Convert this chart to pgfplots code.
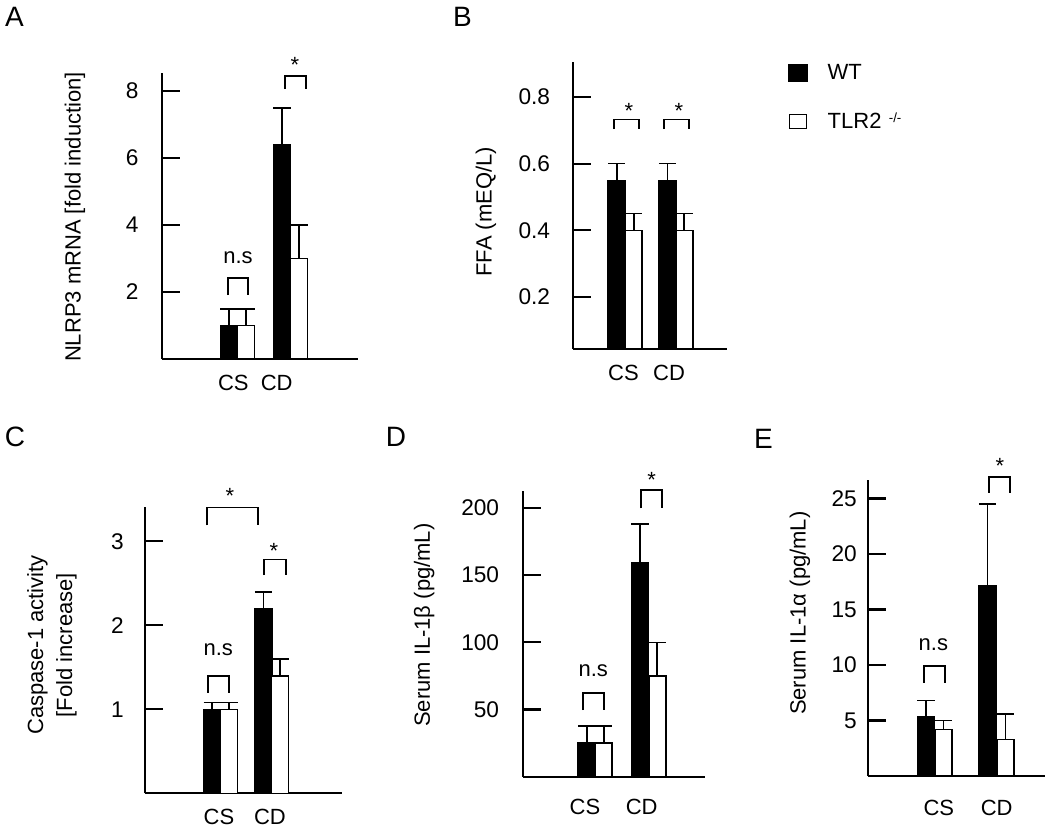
\documentclass[border=0pt]{standalone}
\usepackage{fontspec}
\setmainfont{Liberation Sans}
\usepackage{pgfplots}
\pgfplotsset{compat=1.18}
\newcommand{\lbl}{\fontsize{16.5}{21.75}\selectfont}
\newcommand{\tkl}{\fontsize{17}{20}\selectfont}
\newcommand{\pnl}{\fontsize{21}{25}\selectfont}
\newcommand{\brk}[4]{\draw[line width=1.25pt] (axis cs:#1,#3) -- (axis cs:#1,#4) -- (axis cs:#2,#4) -- (axis cs:#2,#3);}
\tikzset{ann/.style={font=\lbl, inner sep=0pt}}
\pgfplotsset{
  panel/.style={
    scale only axis, axis lines=left, axis line style={-, line width=1.75pt, black},
    clip=false, tick align=inside, major tick length=13.5pt,
    ytick style={line width=1.6pt, black}, xtick style={draw=none},
    yticklabel style={font=\tkl}, xticklabel style={font=\lbl},
    /pgf/number format/assume math mode=true,
    yticklabel style={inner sep=0pt, anchor=east},
    xticklabel style={inner sep=0pt, anchor=center},
    xticklabels={CS,CD},
    ylabel style={font=\lbl, anchor=center, inner sep=0pt, align=center},
    xmin=0, ymin=0,
  },
  wt/.style={ybar, bar shift=0pt, bar width=17, draw=black, fill=black, line width=1.2pt,
    error bars/y dir=plus, error bars/y explicit,
    error bars/error bar style={line width=1.2pt, black, solid},
    error bars/error mark options={rotate=90, mark size=6.5pt, line width=1.2pt, black}},
  ko/.style={wt, fill=white},
}
\begin{document}
\begin{tikzpicture}
\useasboundingbox (0,0) rectangle (787.5pt,-621.75pt);
% panel letters
\node[font=\pnl, inner sep=0pt] at (10.9pt,-12.75pt) {A};
\node[font=\pnl, inner sep=0pt] at (346.9pt,-12.5pt) {B};
\node[font=\pnl, inner sep=0pt] at (11.25pt,-327.5pt) {C};
\node[font=\pnl, inner sep=0pt] at (297pt,-327.5pt) {D};
\node[font=\pnl, inner sep=0pt] at (572.5pt,-329.25pt) {E};

% ---------------- A
\begin{axis}[panel, at={(121.5pt,-269.25pt)}, anchor=south west,
  width=147pt, height=214.5pt, xmax=196, ymax=8.54,
  ytick={2,4,6,8}, xtick={71.3,114.7},
  yticklabel style={xshift=-17.5pt}, xticklabel style={yshift=-17.8pt},
  ylabel={NLRP3 mRNA [fold induction]},
  ylabel style={at={(axis description cs:-0.444,0.4965)}}]
\addplot[wt] coordinates {(67,1.0) +- (0,0.5) (120,6.4) +- (0,1.1)};
\addplot[ko] coordinates {(84,1.0) +- (0,0.5) (137,3.0) +- (0,1.0)};
\brk{66}{86}{1.91}{2.42}
\node[ann] at (axis cs:76,3.03) {n.s};
\brk{123}{144}{8.06}{8.45}
\node[ann, anchor=north] at (axis cs:133,9.02) {*};
\end{axis}

% ---------------- B
\begin{axis}[panel, clip=true, at={(429.75pt,-261.75pt)}, anchor=south west,
  width=115.5pt, height=215.25pt, xmax=154, ymin=0.044, ymax=0.905,
  ytick={0.2,0.4,0.6,0.8}, xtick={50.5,96},
  yticklabel style={xshift=-17pt, /pgf/number format/.cd, fixed, precision=1, fixed zerofill},
  xticklabel style={yshift=-18.2pt},
  ylabel={FFA (mEQ/L)},
  ylabel style={at={(axis description cs:-0.565,0.478)}},
  legend style={at={(axis description cs:1.396,0.993)}, anchor=north west,
    draw=none, fill=none, font=\lbl, inner sep=0pt, row sep=23pt,
    nodes={inner sep=0pt},
    /tikz/every odd column/.append style={column sep=15pt}},
  legend cell align=left]
\addplot[wt, legend image code/.code={\draw[fill=black, draw=black, line width=0.6pt] (0pt,-6.4pt) rectangle (14pt,6.4pt);}]
  coordinates {(43.7,0.55) +- (0,0.05) (94.5,0.55) +- (0,0.05)};
\addlegendentry{WT}
\addplot[ko, legend image code/.code={\draw[fill=white, draw=black, line width=0.6pt] (0.5pt,-5.3pt) rectangle (13pt,5.3pt);}]
  coordinates {(60.7,0.40) +- (0,0.05) (111.2,0.40) +- (0,0.05)};
\addlegendentry{TLR2\hspace{5.5pt}\raisebox{4pt}{\fontsize{10}{10}\selectfont -/-}}
\brk{41}{66}{0.704}{0.733}
\node[ann, anchor=north] at (axis cs:56,0.781) {*};
\brk{91}{116}{0.704}{0.733}
\node[ann, anchor=north] at (axis cs:106,0.781) {*};
\end{axis}

% ---------------- C
\begin{axis}[panel, at={(108.75pt,-594.975pt)}, anchor=south west,
  width=147.75pt, height=214.725pt, xmax=197, ymax=3.41,
  ytick={1,2,3}, xtick={74,125},
  yticklabel style={xshift=-15.75pt}, xticklabel style={yshift=-17.5pt},
  ylabel={Caspase-1 activity\\{[Fold increase]}},
  ylabel style={at={(axis description cs:-0.472,0.518)}}]
\addplot[wt] coordinates {(67.2,1.0) +- (0,0.08) (118.5,2.2) +- (0,0.2)};
\addplot[ko] coordinates {(84.2,1.0) +- (0,0.08) (135,1.4) +- (0,0.2)};
\brk{62}{113}{3.19}{3.405}
\node[ann, anchor=north] at (axis cs:85,3.63) {*};
\brk{119}{140.7}{2.6}{2.785}
\node[ann, anchor=north] at (axis cs:129,2.98) {*};
\brk{63}{84}{1.198}{1.396}
\node[ann] at (axis cs:73.3,1.706) {n.s};
\end{axis}

% ---------------- D
\begin{axis}[panel, at={(392.025pt,-582.525pt)}, anchor=south west,
  width=136.725pt, height=214.5pt, xmax=182.3, ymax=212.8,
  ytick={50,100,150,200}, xtick={62.3,119},
  yticklabel style={xshift=-17.5pt}, xticklabel style={yshift=-22.5pt},
  ylabel={Serum IL-1β (pg/mL)},
  ylabel style={at={(axis description cs:-0.541,0.530)}}]
\addplot[wt] coordinates {(64,25) +- (0,12.7) (117.3,159) +- (0,29)};
\addplot[ko] coordinates {(81,25) +- (0,12.7) (134.5,75) +- (0,25)};
\brk{60.6}{81.3}{49.6}{62.1}
\node[ann] at (axis cs:70.6,78.8) {n.s};
\brk{118.3}{139}{199.7}{213.3}
\node[ann, anchor=north] at (axis cs:129,227) {*};
\end{axis}

% ---------------- E
\begin{axis}[panel, at={(650.775pt,-582pt)}, anchor=south west,
  width=132.975pt, height=222pt, xmax=177.3, ymax=26.67,
  x axis line style={line width=0.9pt},
  ytick={5,10,15,20,25}, xtick={71.1,129},
  yticklabel style={xshift=-8pt}, xticklabel style={yshift=-23.6pt},
  ylabel={Serum IL-1α (pg/mL)},
  ylabel style={at={(axis description cs:-0.382,0.550)}}]
\addplot[wt] coordinates {(58.2,5.3) +- (0,1.5) (119.8,17.1) +- (0,7.4)};
\addplot[ko] coordinates {(75.7,4.2) +- (0,0.8) (137.7,3.3) +- (0,2.3)};
\brk{56.3}{77.3}{8.4}{9.9}
\node[ann] at (axis cs:65.7,11.86) {n.s};
\brk{121.6}{142.3}{25.5}{26.96}
\node[ann, anchor=north] at (axis cs:132.3,28.6) {*};
\end{axis}
\end{tikzpicture}
\end{document}
